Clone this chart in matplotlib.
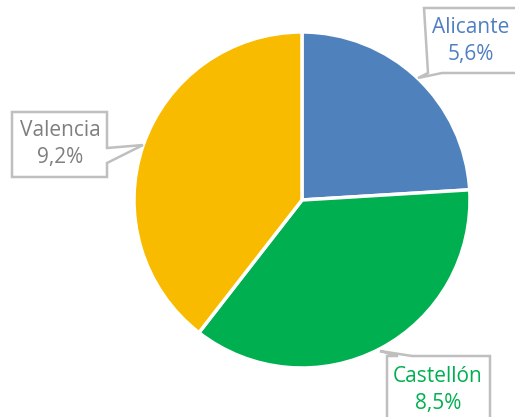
import matplotlib.pyplot as plt
from matplotlib.patches import Polygon

# data
provincias = ["Alicante", "Castellón", "Valencia"]
valores = [5.6, 8.5, 9.2]
colores = ["#4F81BD", "#00B050", "#F9BB00"]
colores_txt = ["#4F7FC1", "#00B050", "#7F7F7F"]

W, H = 515, 417
fig = plt.figure(figsize=(W / 100, H / 100), dpi=100)
ax = fig.add_axes([0, 0, 1, 1])

ax.pie(valores, colors=colores, startangle=90, counterclock=False,
       center=(302, H - 200), radius=168,
       wedgeprops=dict(edgecolor="white", linewidth=2.5))
ax.set_xlim(0, W)
ax.set_ylim(0, H)
ax.set_aspect("equal")
ax.axis("off")

# callout boxes (image pixel coords, y from top): outline points in order
callouts = [
    # Alicante: pointer on bottom edge
    [(424, 8), (520, 8), (520, 73), (442, 73), (418, 78), (428, 73)],
    # Castellón: pointer on top edge
    [(387, 356), (398, 356), (380, 351), (412, 356), (490, 356), (490, 425), (387, 425)],
    # Valencia: pointer on right edge
    [(12, 112), (107, 112), (107, 148), (143, 145), (107, 163), (107, 177), (12, 177)],
]
textpos = [(471, 41), (438, 390), (60, 144)]

for pts, (tx, ty), nombre, v, c in zip(callouts, textpos, provincias, valores, colores_txt):
    poly = Polygon([(x, H - y) for x, y in pts], closed=True, facecolor="white",
                   edgecolor="#BFBFBF", linewidth=1.8, zorder=3)
    ax.add_patch(poly)
    etiqueta = f"{nombre}\n{v:.1f}%".replace(".", ",")
    ax.text(tx, H - ty, etiqueta, ha="center", va="center", color=c,
            fontsize=15, family="Open Sans", linespacing=1.35, zorder=4)

fig.savefig("out.png", dpi=100)
